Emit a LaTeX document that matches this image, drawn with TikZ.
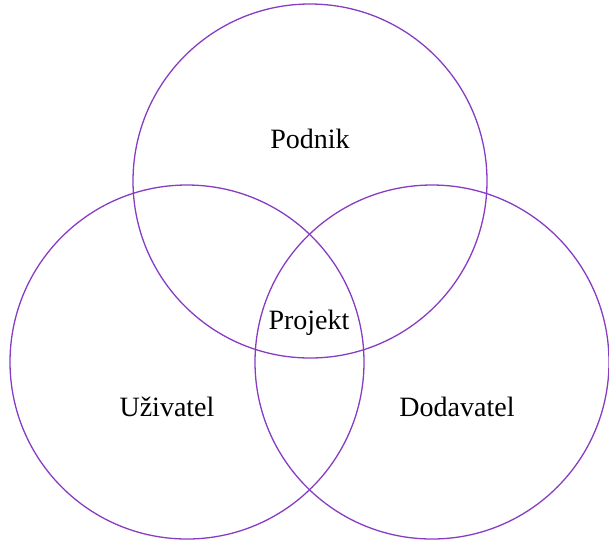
\documentclass[tikz,border=0pt]{standalone}
\usepackage{fontspec}
\setmainfont{Liberation Serif}
\definecolor{ringcol}{RGB}{135,60,195}
\begin{document}
\begin{tikzpicture}[x=1pt,y=-1pt,
  ring/.style={draw=ringcol,line width=1.3pt},
  lbl/.style={font=\fontsize{28}{32}\selectfont,inner sep=0pt}]
\useasboundingbox (0,0) rectangle (609,542);
% the three overlapping sets
\draw[ring] (310,181) circle[radius=177];
\draw[ring] (187,362) circle[radius=177];
\draw[ring] (432,362) circle[radius=177];
% set labels
\node[lbl] (podnik) at (310,139) {Podnik};
\node[lbl] (projekt) at (309,323) {Projekt};
\node[lbl] (uzivatel) at (167,407) {Uživatel};
\node[lbl] (dodavatel) at (457,407) {Dodavatel};
\end{tikzpicture}
\end{document}
